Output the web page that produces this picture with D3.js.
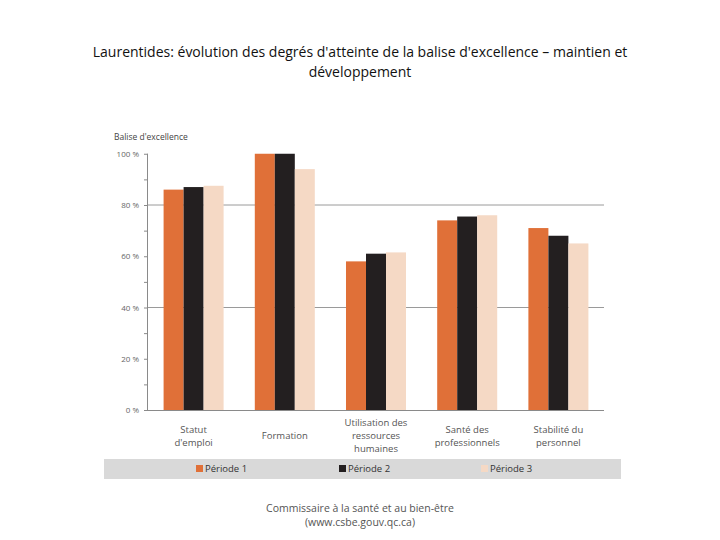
<!DOCTYPE html>
<html><head><meta charset="utf-8">
<script src="https://cdn.jsdelivr.net/npm/d3@7"></script>
<style>body{margin:0;background:#fff}svg{display:block}</style>
</head><body>
<script>
const categories = ["Statut d'emploi", "Formation", "Utilisation des ressources humaines", "Santé des professionnels", "Stabilité du personnel"];
const categoryLines = [["Statut","d'emploi"],["Formation"],["Utilisation des","ressources","humaines"],["Santé des","professionnels"],["Stabilité du","personnel"]];
const seriesNames = ["Période 1", "Période 2", "Période 3"];
const periode1 = [86, 100, 58, 74, 71];
const periode2 = [87, 100, 61, 75.5, 68];
const periode3 = [87.5, 94, 61.5, 76, 65];
const yTicks = [0, 20, 40, 60, 80, 100];
const gridValues = [40, 80];
const colors = ["#E07038", "#231F20", "#F5D9C5"];
const series = [periode1, periode2, periode3];

const W = 720, H = 540;
const svg = d3.select("body").append("svg").attr("width", W).attr("height", H);
const font = "'Open Sans', 'DejaVu Sans', sans-serif";

// Title
svg.append("text").attr("x", 360).attr("y", 57).attr("text-anchor", "middle")
  .attr("font-family", font).attr("font-size", 14).attr("fill", "#111")
  .text("Laurentides: évolution des degrés d'atteinte de la balise d'excellence – maintien et");
svg.append("text").attr("x", 360).attr("y", 77).attr("text-anchor", "middle")
  .attr("font-family", font).attr("font-size", 14).attr("fill", "#111")
  .text("développement");

const pLeft = 148, pRight = 604, pTop = 153.75, pBottom = 410;
const x = d3.scaleBand().domain(categories).range([pLeft, pRight]).paddingInner(0.342).paddingOuter(0.171);
const xs = d3.scaleBand().domain(seriesNames).range([0, x.bandwidth()]);
const y = d3.scaleLinear().domain([0, 100]).range([pBottom, pTop]);

// gridlines
svg.append("g").selectAll("line").data(gridValues).join("line")
  .attr("x1", pLeft).attr("x2", pRight).attr("y1", d => y(d)).attr("y2", d => y(d))
  .attr("stroke", "#9a9a9a").attr("stroke-width", 1);

// bars
const g = svg.append("g");
series.forEach((vals, si) => {
  g.append("g").selectAll("rect").data(vals).join("rect")
    .attr("x", (d, i) => x(categories[i]) + xs(seriesNames[si]))
    .attr("width", xs.bandwidth())
    .attr("y", d => y(d))
    .attr("height", d => y(0) - y(d))
    .attr("fill", colors[si]);
});

// y axis
const yAxis = d3.axisLeft(y).tickValues(d3.range(0, 101, 10)).tickSize(4).tickFormat(d => yTicks.includes(d) ? d + " %" : "");
const ya = svg.append("g").attr("transform", `translate(${pLeft},0)`).call(yAxis);
ya.select(".domain").attr("stroke", "#8a8a8a").attr("d", `M-0.5,${pTop}V${pBottom}`);
ya.selectAll(".tick line").attr("stroke", "#8a8a8a");
ya.selectAll(".tick text").attr("font-family", font).attr("font-size", 8).attr("fill", "#666").attr("x", -9);

// baseline
svg.append("line").attr("x1", pLeft).attr("x2", pRight).attr("y1", pBottom + 0.5).attr("y2", pBottom + 0.5)
  .attr("stroke", "#8a8a8a");

// axis title
svg.append("text").attr("x", 114).attr("y", 140).attr("font-family", font).attr("font-size", 8.5)
  .attr("fill", "#444").text("Balise d'excellence");

// category labels
categories.forEach((c, i) => {
  const lines = categoryLines[i];
  const cx = x(c) + x.bandwidth() / 2;
  const startY = 439 - (lines.length - 1) * 13 / 2;
  const t = svg.append("text").attr("text-anchor", "middle").attr("font-family", font)
    .attr("font-size", 9.5).attr("fill", "#555");
  lines.forEach((l, j) => t.append("tspan").attr("x", cx).attr("y", startY + j * 13).text(l));
});

// legend band
svg.append("rect").attr("x", 104).attr("y", 459).attr("width", 517).attr("height", 20).attr("fill", "#d9d9d9");
const legendX = [196, 339, 481];
seriesNames.forEach((s, i) => {
  svg.append("rect").attr("x", legendX[i]).attr("y", 465).attr("width", 7).attr("height", 7).attr("fill", colors[i]);
  svg.append("text").attr("x", legendX[i] + 9).attr("y", 472).attr("font-family", font)
    .attr("font-size", 9.5).attr("fill", "#333").text(s);
});

// footer
svg.append("text").attr("x", 360).attr("y", 512).attr("text-anchor", "middle").attr("font-family", font)
  .attr("font-size", 10.5).attr("fill", "#555").text("Commissaire à la santé et au bien-être");
svg.append("text").attr("x", 360).attr("y", 526).attr("text-anchor", "middle").attr("font-family", font)
  .attr("font-size", 10.5).attr("fill", "#555").text("(www.csbe.gouv.qc.ca)");
</script>
</body></html>
